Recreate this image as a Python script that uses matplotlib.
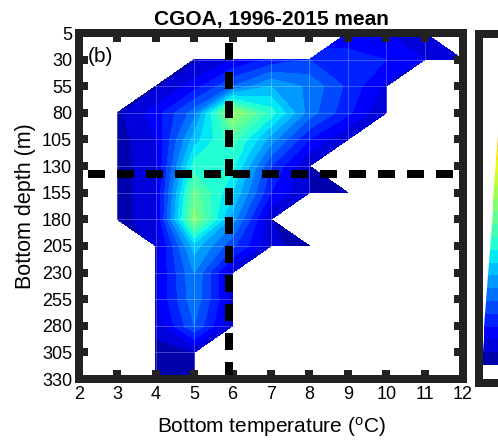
import numpy as np
import matplotlib
matplotlib.use("Agg")
import matplotlib.pyplot as plt
from matplotlib.colors import Normalize

plt.rcParams['font.family'] = ['Liberation Sans', 'DejaVu Sans']
plt.rcParams['mathtext.default'] = 'regular'

# ---- data ----
temps = [2, 3, 4, 5, 6, 7, 8, 9, 10, 11, 12]
depths = [5, 30, 55, 80, 105, 130, 155, 180, 205, 230, 255, 280, 305, 330]
n = np.nan
# relative density (rows: depth, cols: temperature)
z_5   = [n, n, n, n, n, n, n, 0.06, 0.08, 0.06, n]
z_30  = [n, n, n, 0.03, 0.08, 0.13, 0.16, 0.16, 0.12, 0.08, 0.03]
z_55  = [n, n, 0.03, 0.10, 0.20, 0.28, 0.23, 0.15, 0.07, n, n]
z_80  = [n, 0.03, 0.10, 0.22, 0.53, 0.38, 0.22, 0.13, 0.04, n, n]
z_105 = [n, 0.02, 0.08, 0.30, 0.42, 0.26, 0.12, 0.04, n, n, n]
z_130 = [n, 0.02, 0.07, 0.38, 0.37, 0.16, 0.04, n, n, n, n]
z_155 = [n, 0.02, 0.07, 0.46, 0.32, 0.12, 0.04, 0.02, n, n, n]
z_180 = [n, 0.02, 0.07, 0.50, 0.26, 0.04, n, n, n, n, n]
z_205 = [n, n, 0.05, 0.30, 0.17, 0.05, 0.02, n, n, n, n]
z_230 = [n, n, 0.07, 0.24, 0.05, n, n, n, n, n, n]
z_255 = [n, n, 0.07, 0.23, 0.06, n, n, n, n, n, n]
z_280 = [n, n, 0.05, 0.20, 0.04, n, n, n, n, n, n]
z_305 = [n, n, 0.03, 0.04, n, n, n, n, n, n, n]
z_330 = [n, n, 0.03, 0.03, n, n, n, n, n, n, n]
levels = np.round(np.arange(0.0, 1.0001, 0.04), 4)
mean_temp = 5.9
mean_depth = 137
xticks = [2, 3, 4, 5, 6, 7, 8, 9, 10, 11, 12]
yticks = depths

Z = np.array([z_5, z_30, z_55, z_80, z_105, z_130, z_155, z_180, z_205,
              z_230, z_255, z_280, z_305, z_330])
Zm = np.ma.masked_invalid(Z)
T, D = np.meshgrid(temps, depths)

cmap = plt.get_cmap('jet')
norm = Normalize(vmin=-0.02, vmax=1.0)
edge = '#222222'
lw_frame = 5.76

fig = plt.figure(figsize=(4.98, 4.41), dpi=100)
ax = fig.add_axes([79/498, 1-379/441, 384/498, 346/441])
ax.contourf(T, D, Zm, levels=levels, cmap=cmap, norm=norm, corner_mask=True, zorder=1)
ax.set_xlim(2, 12)
ax.set_ylim(330, 5)
ax.set_xticks(xticks)
ax.set_yticks(yticks)
ax.grid(True, color='white', alpha=0.3, lw=0.6, zorder=1.5)

# mean dashed lines
dash = (2.125, 1.5)
ax.axvline(mean_temp, color='black', lw=lw_frame, ls=(0, dash), zorder=3)
ax.axhline(mean_depth, color='black', lw=lw_frame, ls=(2.5, dash), zorder=3)

for s in ax.spines.values():
    s.set_linewidth(lw_frame)
    s.set_color(edge)
    s.set_zorder(4)
ax.tick_params(direction='in', length=6.5, width=lw_frame, color=edge,
               top=True, right=True, labelsize=13, pad=5)
ax.set_title('CGOA, 1996-2015 mean', fontsize=15, fontweight='bold', pad=6)
ax.set_xlabel('Bottom temperature ($^o$C)', fontsize=15)
ax.set_ylabel('Bottom depth (m)', fontsize=15.5)
ax.xaxis.set_label_coords(0.5, (379-427)/346)
ax.xaxis.label.set_va('center')
ax.yaxis.set_label_coords((25-79)/384, 0.5)
ax.yaxis.label.set_va('center')
ax.text(0.023, 0.96, '(b)', transform=ax.transAxes, fontsize=15,
        va='top', ha='left', zorder=5)

# ---- wedge colour bar (partly cut off at right) ----
ax2 = fig.add_axes([479/498, 1-383/441, 100/498, 349/441])
v_bot = -(383-365)/320
v_top = 1 + (45-34)/320
ax2.set_ylim(v_bot, v_top)
ax2.set_xlim(0, 100)

def xl(v):
    return 2.7 + 22.5*v

for a, b in zip(levels[:-1], levels[1:]):
    col = cmap(norm(0.5*(a+b)))
    ax2.fill([xl(a), 100, 100, xl(b)], [a, a, b, b], color=col, lw=0)
for s in ax2.spines.values():
    s.set_linewidth(lw_frame)
    s.set_color(edge)
ax2.set_xticks([])
ax2.set_yticks([])

fig.savefig('out.png', dpi=100)
